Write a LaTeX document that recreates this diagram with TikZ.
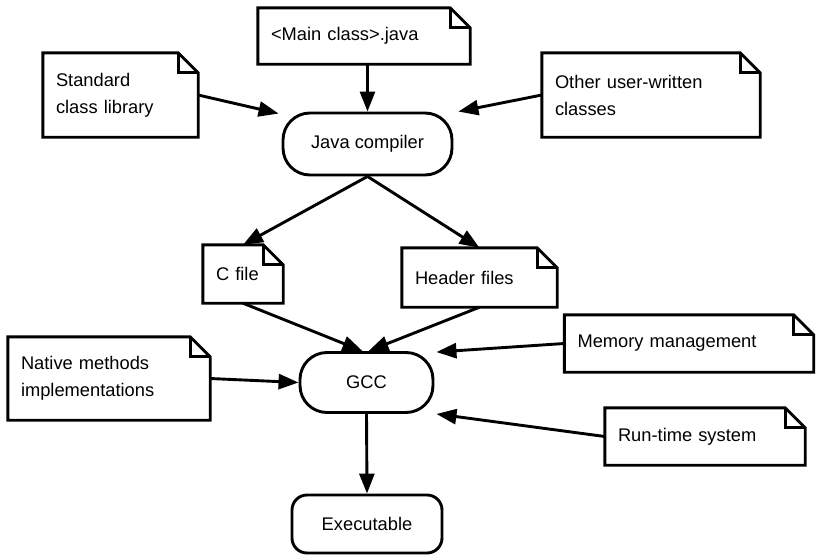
\documentclass[tikz,border=0pt]{standalone}
\usepackage{fontspec}
\setmainfont{Liberation Sans}
\usetikzlibrary{arrows.meta}
\tikzset{
  ln/.style={line width=2.9pt, line join=miter},
  arr/.style={line width=2.9pt, -{Triangle[length=20pt,width=15pt]}},
  note/.style n args={2}{rectangle, draw=none, inner xsep=13pt, inner ysep=0pt,
     minimum width=#1pt, minimum height=#2pt, text width=#1pt-26pt, align=left},
  proc/.style n args={3}{rectangle, draw, line width=2.9pt, rounded corners=#3pt,
     minimum width=#1pt, minimum height=#2pt, inner sep=0pt, align=center},
}
\newcommand\notefold[1]{%
  \draw[ln] (#1.north west) -- ([xshift=-20pt]#1.north east) -- ([yshift=-20pt]#1.north east)
     -- (#1.south east) -- (#1.south west) -- cycle;
  \draw[ln] ([xshift=-20pt]#1.north east) |- ([yshift=-20pt]#1.north east);}
\begin{document}
\begin{tikzpicture}[x=1pt, y=-1pt, font=\fontsize{18.3}{27}\selectfont]
\useasboundingbox (0,0) rectangle (816,554);
% notes
\node[note={212}{56}] (main) at (364,36) {\raisebox{-3pt}{<Main class>.java}};
\node[note={155}{84}] (std) at (120.5,95) {Standard\\class library};
\node[note={218}{84}] (other) at (651,95) {Other user-written\\classes};
\node[note={80}{58}] (cfile) at (243,274) {C file};
\node[note={155}{59}] (header) at (479.5,277.5) {Header files};
\node[note={202}{83}] (native) at (109,378.5) {Native methods\\implementations};
\node[note={249}{57}] (mem) at (689,343.5) {Memory management};
\node[note={200}{57}] (rt) at (705,436.5) {Run-time system};
\foreach \n in {main,std,other,cfile,header,native,mem,rt} {\notefold{\n}}
% processes
\node[proc={169}{62}{27}] (comp) at (367.5,144) {Java compiler};
\node[proc={133}{60}{27}] (gcc) at (366.5,382.5) {GCC};
\node[proc={150}{58}{15}] (exe) at (367,524) {Executable};
% arrows
\draw[arr] (comp.north |- main.south) -- (comp.north);
\draw[arr] (std.east) -- ([xshift=-3pt,yshift=-2pt]comp.north west);
\draw[arr] (other.west) -- ([xshift=5pt]comp.north east);
\draw[arr] (comp.south) -- (cfile.north);
\draw[arr] (comp.south) -- (header.north);
\draw[arr] (cfile.south) -- ([xshift=-4pt]gcc.north);
\draw[arr] (header.south) -- ([xshift=2pt]gcc.north);
\draw[arr] (native.east) -- (gcc.west);
\draw[arr] (mem.west) -- ([xshift=2pt,yshift=-1pt]gcc.north east);
\draw[arr] (rt.west) -- ([xshift=2pt]gcc.south east);
\draw[arr] (gcc.south) -- (exe.north);
\end{tikzpicture}
\end{document}
